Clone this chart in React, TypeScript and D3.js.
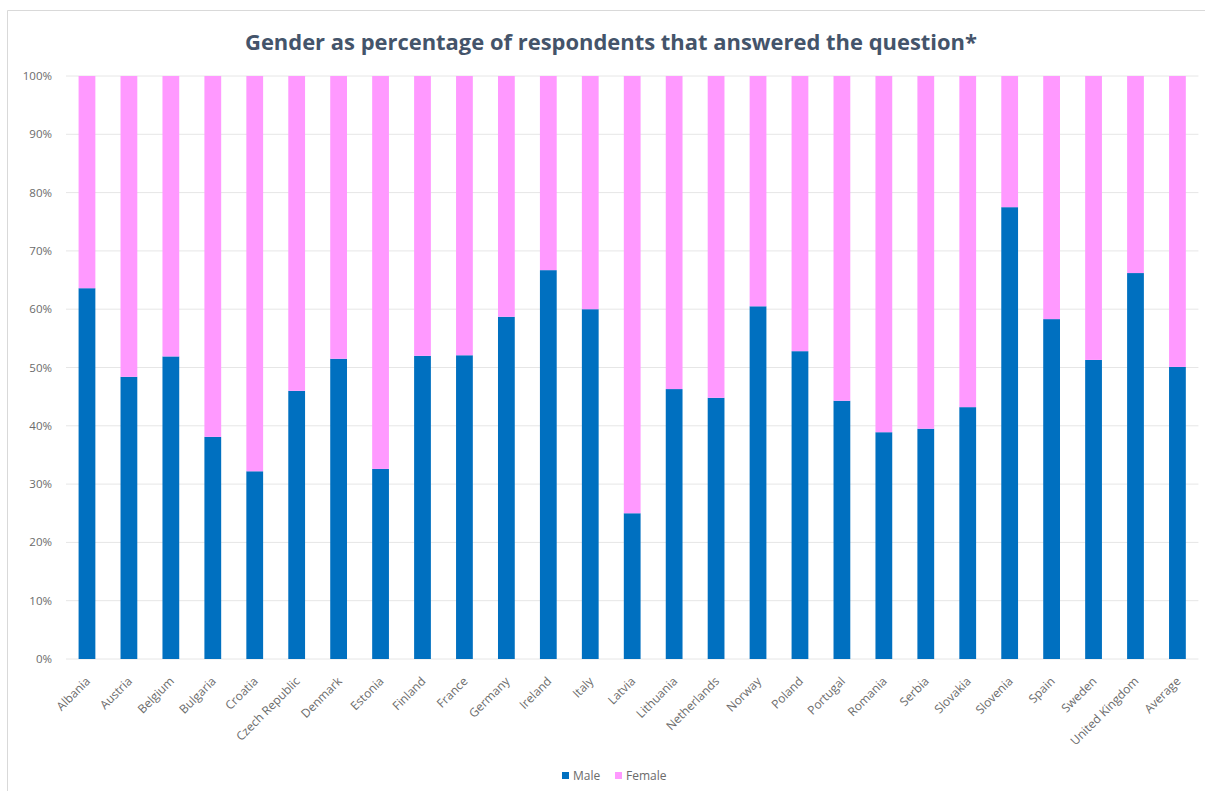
import React from "react";
import * as d3 from "d3";

const categories = ["Albania","Austria","Belgium","Bulgaria","Croatia","Czech Republic","Denmark","Estonia","Finland","France","Germany","Ireland","Italy","Latvia","Lithuania","Netherlands","Norway","Poland","Portugal","Romania","Serbia","Slovakia","Slovenia","Spain","Sweden","United Kingdom","Average"];
const maleValues = [63.6,48.4,51.9,38.1,32.2,46.0,51.5,32.6,52.0,52.1,58.7,66.7,60.0,25.0,46.3,44.8,60.5,52.8,44.3,38.9,39.5,43.2,77.5,58.3,51.3,66.2,50.1];
const femaleValues = maleValues.map(v => 100 - v);
const yTicks = [0,10,20,30,40,50,60,70,80,90,100];
const seriesNames = ["Male","Female"];
const seriesColors = ["#0070C0","#FF99FF"];
const title = "Gender as percentage of respondents that answered the question*";

export default function App() {
  const W = 1205, H = 791;
  const left = 66.0, right = 1198.4, top = 76, bottom = 659;
  const x = d3.scaleBand<string>().domain(categories).range([left, right]).paddingInner(0.6).paddingOuter(0.3);
  const y = d3.scaleLinear().domain([0, 100]).range([bottom, top]);
  const font = "'Open Sans', Lato, sans-serif";
  const textColor = "#6b6b6b";
  return (
    <svg width={W} height={H} style={{ position: "absolute", left: 0, top: 0, background: "#fff" }}>
      <line x1={7.5} x2={W} y1={10.5} y2={10.5} stroke="#d9d9d9" />
      <line x1={7.5} x2={7.5} y1={10.5} y2={H} stroke="#d9d9d9" />
      <text x={611} y={50} textAnchor="middle" fontFamily={font} fontWeight="bold" fontSize={21} fill="#44546A" textLength={732} lengthAdjust="spacingAndGlyphs">{title}</text>
      {yTicks.map(t => (
        <g key={t}>
          <line x1={left} x2={right} y1={y(t)} y2={y(t)} stroke="#e6e6e6" strokeWidth={1} />
          <text x={52} y={y(t) + 4} textAnchor="end" fontFamily={font} fontSize={11.5} fill={textColor}>{t + "%"}</text>
        </g>
      ))}
      {categories.map((c, i) => (
        <g key={c}>
          <rect x={x(c)} width={x.bandwidth()} y={y(maleValues[i])} height={y(0) - y(maleValues[i])} fill={seriesColors[0]} />
          <rect x={x(c)} width={x.bandwidth()} y={y(100)} height={y(maleValues[i]) - y(femaleValues[i] + maleValues[i])} fill={seriesColors[1]} />
          <text transform={`translate(${(x(c) as number) + x.bandwidth() / 2 + 4},${bottom + 23}) rotate(-45)`} textAnchor="end" fontFamily={font} fontSize={12} fill={textColor}>{c}</text>
        </g>
      ))}
      {seriesNames.map((s, i) => {
        const lx = i === 0 ? 562 : 615;
        return (
          <g key={s}>
            <rect x={lx} y={772} width={7} height={7} fill={seriesColors[i]} />
            <text x={lx + 11} y={780} fontFamily={font} fontSize={12} fill={textColor}>{s}</text>
          </g>
        );
      })}
    </svg>
  );
}
